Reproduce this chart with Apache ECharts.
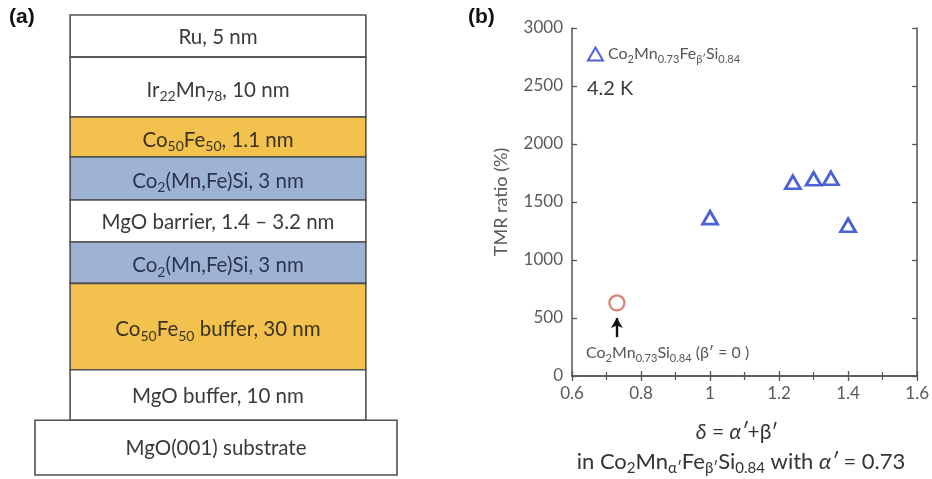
<!DOCTYPE html>
<html>
<head>
<meta charset="utf-8">
<script src="https://cdn.jsdelivr.net/npm/echarts@6/dist/echarts.min.js"></script>
<style>
  html, body { margin: 0; padding: 0; background: #fff; }
  #chart { width: 932px; height: 479px; }
</style>
</head>
<body>
<div id="chart"></div>
<script>
// ---- (a) film stack, listed from top to bottom ----
const layerLabels = [
  'Ru, 5 nm',
  'Ir{s|22}Mn{s|78}, 10 nm',
  'Co{s|50}Fe{s|50}, 1.1 nm',
  'Co{s|2}(Mn,Fe)Si, 3 nm',
  'MgO barrier, 1.4 \u2013 3.2 nm',
  'Co{s|2}(Mn,Fe)Si, 3 nm',
  'Co{s|50}Fe{s|50} buffer, 30 nm',
  'MgO buffer, 10 nm',
  'MgO(001) substrate'
];
const layerMaterials = ['Ru', 'IrMn', 'CoFe', 'CMFS', 'MgO', 'CMFS', 'CoFe', 'MgO', 'substrate'];

// ---- (b) TMR ratio at 4.2 K versus delta ----
const deltaCMFS = [1.00, 1.24, 1.30, 1.35, 1.40];
const tmrCMFS   = [1365, 1670, 1700, 1705, 1300];
const deltaCMS  = [0.73];
const tmrCMS    = [630];
const xTickValues = [0.6, 0.8, 1, 1.2, 1.4, 1.6];
const yTickValues = [0, 500, 1000, 1500, 2000, 2500, 3000];

// ---- drawing ----
const FONT = 'Lato, "Open Sans", sans-serif';
const materialFill = {
  Ru: '#ffffff', IrMn: '#ffffff', MgO: '#ffffff', substrate: '#ffffff',
  CoFe: '#f2c14e', CMFS: '#9eb2d4'
};
const materialInk = {
  Ru: '#3a3a3a', IrMn: '#3a3a3a', MgO: '#3a3a3a', substrate: '#3a3a3a',
  CoFe: '#3b3220', CMFS: '#2b3550'
};
// relative drawn height of each band in the stack sketch
const bandWeights = [1, 1.42, 0.95, 1.02, 1.0, 0.98, 2.05, 1.2, 1.3];
const stackTotal = bandWeights.reduce((a, b) => a + b, 0);
const stackRows = [];
let acc = 0;
layerLabels.forEach((lab, i) => {
  const wide = layerMaterials[i] === 'substrate';
  stackRows.push([wide ? 0 : 0.097, wide ? 1 : 0.914, acc, acc + bandWeights[i], i]);
  acc += bandWeights[i];
});

const chart = echarts.init(document.getElementById('chart'), null, { renderer: 'canvas' });

const tickAxisCommon = {
  axisLine: { show: true, lineStyle: { color: '#555', width: 1.5 } },
  axisTick: { show: true, inside: true, length: 5, lineStyle: { color: '#555', width: 1.3 } },
  splitLine: { show: false }
};
const minorTicks = { show: true, splitNumber: 2, length: 4, lineStyle: { color: '#555', width: 1.2 } };
const subStyle = (size, pad, color) => ({
  fontSize: size, fontFamily: FONT, fill: color, color: color,
  verticalAlign: 'bottom', padding: [pad, 0, 0, 0]
});
const BLUE = '#1e3ccc';

chart.setOption({
  animation: false,
  backgroundColor: '#ffffff',
  grid: [
    { left: 35, top: 15, width: 362, height: 460 },
    { left: 572, top: 28, width: 350, height: 348 }
  ],
  xAxis: [
    { gridIndex: 0, type: 'value', min: 0, max: 1, show: false },
    Object.assign({}, tickAxisCommon, {
      gridIndex: 1, type: 'value', min: xTickValues[0], max: xTickValues[xTickValues.length - 1], interval: 0.2,
      minorTick: minorTicks,
      axisLabel: { color: '#5a5a5a', fontSize: 17, fontFamily: FONT, margin: 9,
        formatter: v => String(+v.toFixed(1)) }
    }),
    Object.assign({}, tickAxisCommon, {
      gridIndex: 1, type: 'value', position: 'top', min: xTickValues[0], max: xTickValues[xTickValues.length - 1], interval: 0.2,
      minorTick: minorTicks,
      axisLabel: { show: false }
    })
  ],
  yAxis: [
    { gridIndex: 0, type: 'value', min: 0, max: stackTotal, inverse: true, show: false },
    Object.assign({}, tickAxisCommon, {
      gridIndex: 1, type: 'value', min: yTickValues[0], max: yTickValues[yTickValues.length - 1], interval: 500,
      axisLabel: { color: '#5a5a5a', fontSize: 17, fontFamily: FONT, margin: 9, formatter: v => String(v) },
      name: 'TMR ratio (%)', nameLocation: 'middle', nameGap: 62,
      nameTextStyle: { color: '#5a5a5a', fontSize: 18, fontFamily: FONT }
    }),
    Object.assign({}, tickAxisCommon, {
      gridIndex: 1, type: 'value', position: 'right', min: yTickValues[0], max: yTickValues[yTickValues.length - 1], interval: 500,
      axisLabel: { show: false }
    })
  ],
  legend: {
    show: true,
    left: 582, top: 41,
    itemWidth: 15, itemHeight: 13, itemGap: 6,
    data: ['cmfs'],
    formatter: () => 'Co{s|2}Mn{s|0.73}Fe{s|\u03b2\u2032}Si{s|0.84}',
    textStyle: {
      color: '#555', fontSize: 16, fontFamily: FONT,
      rich: { s: subStyle(11, 11, '#555') }
    }
  },
  series: [
    {
      name: 'stack',
      type: 'custom',
      xAxisIndex: 0, yAxisIndex: 0,
      silent: true,
      data: stackRows,
      renderItem: (params, api) => {
        const i = api.value(4);
        const p0 = api.coord([api.value(0), api.value(2)]);
        const p1 = api.coord([api.value(1), api.value(3)]);
        const mat = layerMaterials[i];
        const ink = materialInk[mat];
        const hasSub = layerLabels[i].indexOf('{s|') >= 0;
        return {
          type: 'group',
          children: [
            {
              type: 'rect',
              shape: { x: p0[0], y: p0[1], width: p1[0] - p0[0], height: p1[1] - p0[1] },
              style: { fill: materialFill[mat], stroke: '#505050', lineWidth: 1.6 }
            },
            {
              type: 'text',
              style: {
                text: layerLabels[i],
                x: (p0[0] + p1[0]) / 2, y: (p0[1] + p1[1]) / 2 + (hasSub ? 3 : 1),
                align: 'center', verticalAlign: 'middle',
                fill: ink, fontSize: 20.5, fontFamily: FONT,
                rich: { s: subStyle(14, 13, ink) }
              }
            }
          ]
        };
      }
    },
    {
      name: 'cmfs',
      type: 'scatter',
      xAxisIndex: 1, yAxisIndex: 1,
      symbol: 'triangle',
      symbolSize: [15, 13],
      itemStyle: { color: 'rgba(255,255,255,0)', borderColor: BLUE, borderWidth: 2.8 },
      data: deltaCMFS.map((d, i) => [d, tmrCMFS[i]])
    },
    {
      name: 'cms',
      type: 'scatter',
      xAxisIndex: 1, yAxisIndex: 1,
      symbol: 'circle',
      symbolSize: 15,
      itemStyle: { color: 'rgba(255,255,255,0)', borderColor: '#d4604f', borderWidth: 2.2 },
      data: deltaCMS.map((d, i) => [d, tmrCMS[i]]),
      markLine: {
        silent: true,
        symbol: ['none', 'arrow'],
        symbolSize: [9, 10],
        lineStyle: { color: '#111', width: 2.4, type: 'solid' },
        label: { show: false },
        data: [[{ coord: [deltaCMS[0], 335] }, { coord: [deltaCMS[0], 500] }]]
      }
    }
  ],
  graphic: [
    { type: 'text', x: 9, y: 7, style: { text: '(a)', fontSize: 21, fontWeight: 'bold', fontFamily: 'Liberation Sans, Arial, sans-serif', fill: '#111' } },
    { type: 'text', x: 468, y: 7, style: { text: '(b)', fontSize: 21, fontWeight: 'bold', fontFamily: 'Liberation Sans, Arial, sans-serif', fill: '#111' } },
    { type: 'text', x: 587, y: 89, style: { text: '4.2 K', fontSize: 20, fontFamily: FONT, fill: '#3a3a3a', verticalAlign: 'middle' } },
    {
      type: 'text', x: 586, y: 353,
      style: {
        text: 'Co{s|2}Mn{s|0.73}Si{s|0.84} (\u03b2\u2032 = 0 )',
        fontSize: 16, fontFamily: FONT, fill: '#555', verticalAlign: 'middle',
        rich: { s: subStyle(11, 11, '#555') }
      }
    },
    {
      type: 'text', x: 737, y: 432,
      style: {
        text: '{i|\u03b4} = {i|\u03b1\u2032}+\u03b2\u2032',
        fontSize: 21, fontFamily: FONT, fill: '#333', align: 'center', verticalAlign: 'middle',
        rich: { i: { fontStyle: 'italic', fontSize: 21, fontFamily: FONT, fill: '#333' } }
      }
    },
    {
      type: 'text', x: 741, y: 462,
      style: {
        text: 'in Co{s|2}Mn{s|\u03b1\u2032}Fe{s|\u03b2\u2032}Si{s|0.84} with {i|\u03b1\u2032} = 0.73',
        fontSize: 22, fontFamily: FONT, fill: '#333', align: 'center', verticalAlign: 'middle',
        rich: {
          s: subStyle(15, 13, '#333'),
          i: { fontStyle: 'italic', fontSize: 22, fontFamily: FONT, fill: '#333' }
        }
      }
    }
  ]
});
</script>
</body>
</html>
